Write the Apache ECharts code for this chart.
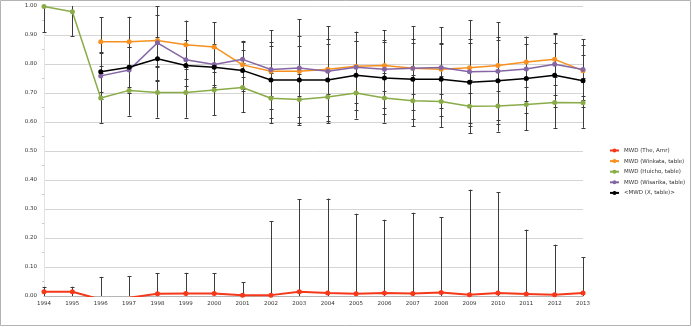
<!DOCTYPE html>
<html>
<head>
<meta charset="utf-8">
<script src="https://cdn.jsdelivr.net/npm/echarts@6/dist/echarts.min.js"></script>
<style>
  html, body { margin: 0; padding: 0; background: #fff; }
  #chart { width: 692px; height: 327px; }
</style>
</head>
<body>
<div id="chart"></div>
<script>
// 年份
var years = ['1994', '1995', '1996', '1997', '1998', '1999', '2000', '2001', '2002', '2003',
    '2004', '2005', '2006', '2007', '2008', '2009', '2010', '2011', '2012', '2013'];

// 各系列数值
var redVals = [0.0145, 0.0145, -0.012, -0.006, 0.008, 0.009, 0.009, 0.003, 0.003, 0.0145,
    0.010, 0.0076, 0.010, 0.009, 0.012, 0.004, 0.010, 0.007, 0.004, 0.010];
var orangeVals = [null, null, 0.877, 0.877, 0.881, 0.866, 0.859, 0.797, 0.775, 0.775,
    0.782, 0.792, 0.795, 0.785, 0.782, 0.787, 0.795, 0.807, 0.816, 0.777];
var greenVals = [0.998, 0.980, 0.683, 0.709, 0.702, 0.702, 0.710, 0.719, 0.682, 0.678,
    0.686, 0.700, 0.683, 0.673, 0.671, 0.654, 0.655, 0.660, 0.667, 0.666];
var purpleVals = [null, null, 0.759, 0.779, 0.873, 0.815, 0.798, 0.816, 0.781, 0.786,
    0.775, 0.789, 0.782, 0.785, 0.788, 0.773, 0.775, 0.783, 0.799, 0.781];
var blackVals = [null, null, 0.773, 0.789, 0.818, 0.795, 0.789, 0.778, 0.745, 0.745,
    0.745, 0.761, 0.752, 0.747, 0.747, 0.737, 0.742, 0.750, 0.761, 0.742];

// 误差
var redErr = [0.0175, 0.0175, 0.078, 0.074, 0.070, 0.071, 0.069, 0.044, 0.255, 0.320,
    0.326, 0.276, 0.253, 0.278, 0.260, 0.363, 0.347, 0.222, 0.173, 0.123];
var orangeErr = [null, null, 0.084, 0.086, 0.087, 0.084, 0.085, 0.083, 0.087, 0.087,
    0.087, 0.087, 0.087, 0.087, 0.087, 0.087, 0.087, 0.087, 0.087, 0.087];
var greenErr = [0.089, 0.084, 0.086, 0.087, 0.087, 0.087, 0.087, 0.085, 0.087, 0.089,
    0.091, 0.088, 0.085, 0.088, 0.088, 0.092, 0.088, 0.088, 0.087, 0.086];
var purpleErr = [null, null, 0.080, 0.080, 0.127, 0.068, 0.070, 0.060, 0.135, 0.168,
    0.156, 0.123, 0.134, 0.145, 0.138, 0.178, 0.169, 0.111, 0.107, 0.104];
var blackErr = [null, null, 0.070, 0.070, 0.075, 0.070, 0.070, 0.070, 0.130, 0.150,
    0.140, 0.120, 0.125, 0.138, 0.126, 0.150, 0.150, 0.120, 0.110, 0.090];

// Y 轴刻度
var yTicks = { min: 0, max: 1, interval: 0.1 };

var seriesNames = ['MWD (The, Amr)', 'MWD (Winkata, table)', 'MWD (Huicho, table)', 'MWD (Wisarika, table)', '<MWD (X, table)>'];
var seriesColors = ['#f5381a', '#f7901e', '#8aac48', '#8466a4', '#000000'];
var allVals = [redVals, orangeVals, greenVals, purpleVals, blackVals];
var allErr = [redErr, orangeErr, greenErr, purpleErr, blackErr];

//误差线数据
function errData(vals, errs) {
    var out = [];
    for (var i = 0; i < vals.length; i++) {
        if (vals[i] == null || errs[i] == null) continue;
        out.push([i, vals[i] - errs[i], vals[i] + errs[i]]);
    }
    return out;
}

//误差线绘制，超出坐标范围的一端截断且不画横帽
function renderErr(params, api) {
    var loV = api.value(1), hiV = api.value(2);
    var loClip = loV < yTicks.min, hiClip = hiV > yTicks.max;
    var lo = api.coord([api.value(0), Math.max(loV, yTicks.min)]);
    var hi = api.coord([api.value(0), Math.min(hiV, yTicks.max)]);
    var x = Math.round(lo[0]) + 0.5;
    var style = { stroke: '#3c3c3c', lineWidth: 1 };
    var kids = [{ type: 'line', shape: { x1: x, y1: lo[1], x2: x, y2: hi[1] }, style: style }];
    if (!loClip) {
        var yl = Math.round(lo[1]) + 0.5;
        kids.push({ type: 'line', shape: { x1: x - 2, y1: yl, x2: x + 2, y2: yl }, style: style });
    }
    if (!hiClip) {
        var yh = Math.round(hi[1]) + 0.5;
        kids.push({ type: 'line', shape: { x1: x - 2, y1: yh, x2: x + 2, y2: yh }, style: style });
    }
    return { type: 'group', children: kids };
}

var series = [];
for (var k = 0; k < allVals.length; k++) {
    series.push({
        type: 'custom',
        renderItem: renderErr,
        data: errData(allVals[k], allErr[k]),
        encode: { x: 0, y: [1, 2] },
        z: 1,
        silent: true
    });
}
for (var k = 0; k < allVals.length; k++) {
    series.push({
        name: seriesNames[k],
        type: 'line',
        data: allVals[k],
        symbol: 'circle',
        symbolSize: 5,
        showAllSymbol: true,
        connectNulls: false,
        clip: true,
        z: 3,
        itemStyle: { color: seriesColors[k] },
        lineStyle: { color: seriesColors[k], width: k === 0 ? 2 : 1.5 }
    });
}

var chart = echarts.init(document.getElementById('chart'), null, { renderer: 'canvas' });
chart.setOption({
    animation: false,
    backgroundColor: '#fff',
    textStyle: { fontFamily: 'DejaVu Sans' },
    graphic: [{
        type: 'rect',
        shape: { x: 0.5, y: 0.5, width: 690, height: 325 },
        style: { fill: 'none', stroke: '#b3b3b3', lineWidth: 1 },
        silent: true
    }],
    grid: { left: 44, right: 109, top: 6, bottom: 31, outerBoundsMode: 'none' },
    legend: {
        data: seriesNames,
        orient: 'vertical',
        left: 604,
        top: 142.5,
        itemWidth: 9,
        itemHeight: 5,
        itemGap: 4.6,
        textStyle: { fontSize: 5.5, color: '#333', lineHeight: 6, fontFamily: 'DejaVu Sans' }
    },
    xAxis: {
        type: 'category',
        data: years,
        boundaryGap: false,
        axisLine: { lineStyle: { color: '#b5b5b5' } },
        axisTick: { show: false },
        axisLabel: { fontSize: 5.5, color: '#333', margin: 5, fontFamily: 'DejaVu Sans' },
        splitLine: { show: false }
    },
    yAxis: {
        type: 'value',
        min: yTicks.min,
        max: yTicks.max,
        interval: yTicks.interval,
        axisLine: { show: true, lineStyle: { color: '#e3e3e3' } },
        axisTick: { show: false },
        minorTick: { show: true, splitNumber: 2, length: 2, lineStyle: { color: '#c8c8c8' } },
        axisLabel: {
            fontSize: 5.5, color: '#333', margin: 7, fontFamily: 'DejaVu Sans',
            formatter: function (v) { return v.toFixed(2); }
        },
        splitLine: { lineStyle: { color: '#d4d4d4' } }
    },
    series: series
});
</script>
</body>
</html>
